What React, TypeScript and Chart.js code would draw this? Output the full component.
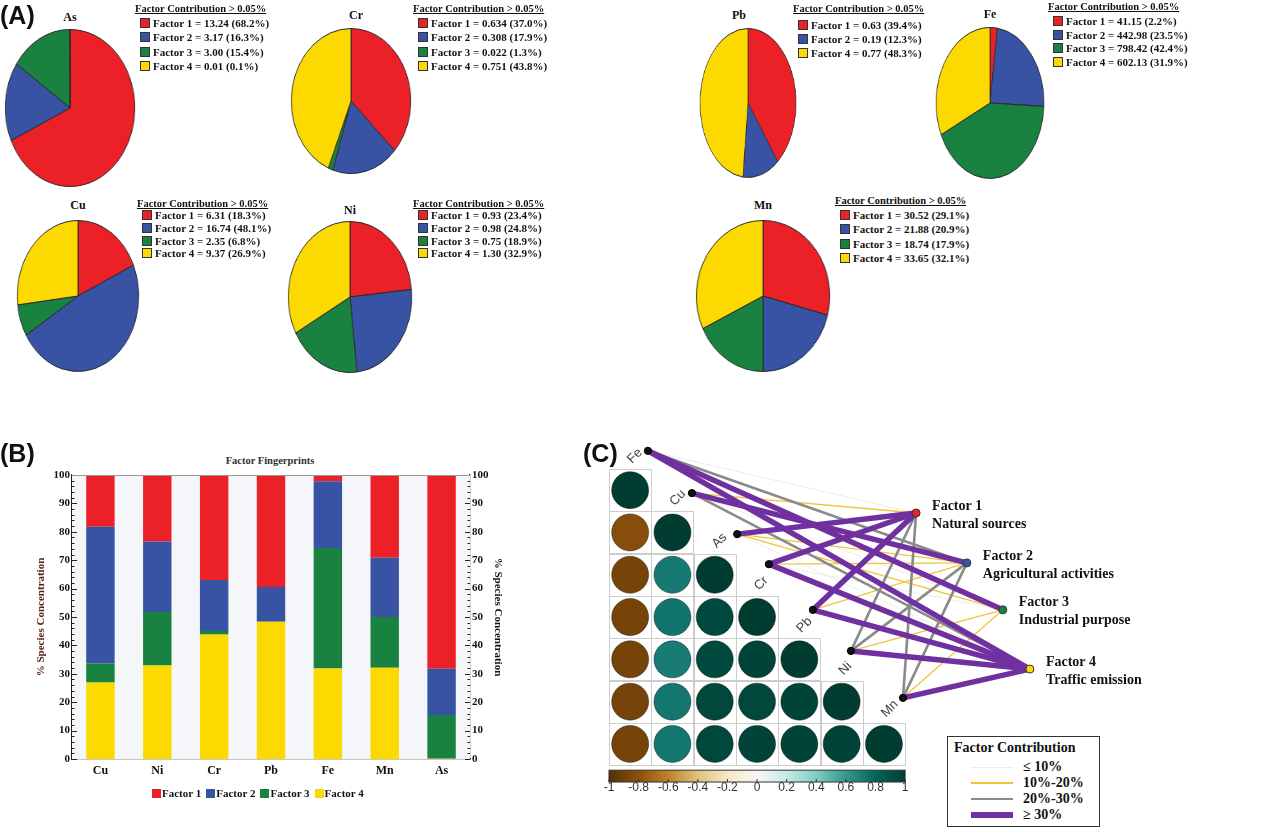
import React, { useEffect, useRef } from 'react';
import { Chart, registerables } from 'chart.js';

Chart.register(...registerables);

const SERIF = '"Liberation Serif", "Times New Roman", serif';
const SANS = '"Liberation Sans", Arial, sans-serif';

// ---------------- data ----------------
const elements = ['Cu', 'Ni', 'Cr', 'Pb', 'Fe', 'Mn', 'As'];
const factorNames = ['Factor 1', 'Factor 2', 'Factor 3', 'Factor 4'];
const factor1Value = [6.31, 0.93, 0.634, 0.63, 41.15, 30.52, 13.24];
const factor2Value = [16.74, 0.98, 0.308, 0.19, 442.98, 21.88, 3.17];
const factor3Value = [2.35, 0.75, 0.022, null, 798.42, 18.74, 3.0];
const factor4Value = [9.37, 1.3, 0.751, 0.77, 602.13, 33.65, 0.01];
const factor1Pct = [18.3, 23.4, 37.0, 39.4, 2.2, 29.1, 68.2];
const factor2Pct = [48.1, 24.8, 17.9, 12.3, 23.5, 20.9, 16.3];
const factor3Pct = [6.8, 18.9, 1.3, null, 42.4, 17.9, 15.4];
const factor4Pct = [26.9, 32.9, 43.8, 48.3, 31.9, 32.1, 0.1];
const valueDecimals = [2, 2, 3, 2, 2, 2, 2];
const barYTicks = [0, 10, 20, 30, 40, 50, 60, 70, 80, 90, 100];

const corrLabels = ['Fe', 'Cu', 'As', 'Cr', 'Pb', 'Ni', 'Mn'];
const corrRows = [
  [1],
  [-0.82, 1],
  [-0.88, 0.72, 1],
  [-0.88, 0.74, 0.94, 1],
  [-0.88, 0.71, 0.94, 0.96, 1],
  [-0.88, 0.73, 0.95, 0.95, 0.96, 1],
  [-0.88, 0.73, 0.95, 0.96, 0.96, 0.97, 1],
];
const colorbarTicks = [-1, -0.8, -0.6, -0.4, -0.2, 0, 0.2, 0.4, 0.6, 0.8, 1];
const factorSources = ['Natural sources', 'Agricultural activities', 'Industrial purpose', 'Traffic emission'];
const contributionClasses = ['≤ 10%', '10%-20%', '20%-30%', '≥ 30%'];

const factorValues = [factor1Value, factor2Value, factor3Value, factor4Value];
const factorPcts = [factor1Pct, factor2Pct, factor3Pct, factor4Pct];

// ---------------- styles / layout ----------------
const FACTOR_COLORS = ['#EC2027', '#3953A4', '#198241', '#FCD900'];
const EDGE_STYLES = [
  { color: '#ececec', width: 1 },
  { color: '#F0C43A', width: 1.3 },
  { color: '#8a8a8a', width: 2.6 },
  { color: '#7030A0', width: 5.5 },
];

const BRBG: [number, number[]][] = [
  [-1, [84, 48, 5]], [-0.8, [140, 81, 10]], [-0.6, [191, 129, 45]], [-0.4, [223, 194, 125]],
  [-0.2, [246, 232, 195]], [0, [247, 247, 247]], [0.2, [199, 234, 229]], [0.4, [128, 205, 193]],
  [0.6, [53, 151, 143]], [0.8, [1, 102, 94]], [1, [0, 60, 48]],
];
function brbg(v: number) {
  for (let k = 0; k < BRBG.length - 1; k++) {
    const [a, ca] = BRBG[k];
    const [b, cb] = BRBG[k + 1];
    if (v >= a && v <= b) {
      const t = (v - a) / (b - a);
      const c = ca.map((q, n) => Math.round(q + (cb[n] - q) * t));
      return `rgb(${c[0]},${c[1]},${c[2]})`;
    }
  }
  return 'rgb(0,60,48)';
}

// network layout in matrix-cell units
const elemNodeX = [0.92, 1.96, 3.03, 3.78, 4.82, 5.72, 6.95];
const elemNodeY = [-0.43, 0.57, 1.54, 2.25, 3.33, 4.3, 5.41];
const factorNodeX = [7.26, 8.46, 9.31, 9.95];
const factorNodeY = [1.04, 2.22, 3.33, 4.73];

const pieLayouts = [
  { el: 'As', cx: 70, cy: 108, rx: 66, ry: 80, tx: 70, ty: 17, lx: 135, lty: 10, lry: 22.5, lrh: 14.6 },
  { el: 'Cr', cx: 351, cy: 101, rx: 61, ry: 74, tx: 356, ty: 15, lx: 413, lty: 10, lry: 22.5, lrh: 14.6 },
  { el: 'Pb', cx: 748, cy: 103, rx: 49, ry: 76, tx: 739, ty: 15, lx: 793, lty: 10, lry: 25, lrh: 14 },
  { el: 'Fe', cx: 990, cy: 103, rx: 55, ry: 77, tx: 990, ty: 14, lx: 1048, lty: 8, lry: 21, lrh: 13.7 },
  { el: 'Cu', cx: 78, cy: 296, rx: 62, ry: 77, tx: 78, ty: 205, lx: 137, lty: 205, lry: 215, lrh: 12.8 },
  { el: 'Ni', cx: 350, cy: 297, rx: 63, ry: 77, tx: 350, ty: 210, lx: 413, lty: 205, lry: 215, lrh: 12.8 },
  { el: 'Mn', cx: 763, cy: 296, rx: 68, ry: 77, tx: 763, ty: 205, lx: 835, lty: 202, lry: 215, lrh: 14.3 },
];

Chart.defaults.font.family = SANS;

// ---------------- pies ----------------
function PieBlock({ layout }: { layout: any }) {
  const ref = useRef<HTMLCanvasElement>(null);
  const ei = elements.indexOf(layout.el);
  const present = [0, 1, 2, 3].filter((f) => factorPcts[f][ei] !== null);
  useEffect(() => {
    const chart = new Chart(ref.current as HTMLCanvasElement, {
      type: 'pie',
      data: {
        labels: present.map((f) => factorNames[f]),
        datasets: [
          {
            data: present.map((f) => factorPcts[f][ei] as number),
            backgroundColor: present.map((f) => FACTOR_COLORS[f]),
            borderColor: '#2a2a2a',
            borderWidth: 1,
          },
        ],
      },
      options: {
        animation: false,
        responsive: true,
        maintainAspectRatio: false,
        events: [],
        layout: { padding: 1 },
        plugins: { legend: { display: false }, tooltip: { enabled: false } },
      },
    });
    return () => chart.destroy();
  }, []);
  const D = layout.ry * 2;
  const rowStyle = (cy: number): React.CSSProperties => ({
    position: 'absolute', left: layout.lx + 5, top: cy - 7, height: 14, lineHeight: '14px',
    whiteSpace: 'nowrap', font: `bold 11px ${SERIF}`, color: '#111', display: 'flex', alignItems: 'center',
  });
  return (
    <>
      <div style={{ position: 'absolute', left: layout.cx - layout.ry, top: layout.cy - layout.ry, width: D, height: D, transform: `scaleX(${layout.rx / layout.ry})`, transformOrigin: 'center' }}>
        <canvas ref={ref} />
      </div>
      <div style={{ position: 'absolute', left: layout.tx - 20, width: 40, top: layout.ty - 7, lineHeight: '14px', textAlign: 'center', font: `bold 12px ${SERIF}`, color: '#111' }}>
        {layout.el}
      </div>
      <div style={{ position: 'absolute', left: layout.lx, top: layout.lty - 7, lineHeight: '14px', whiteSpace: 'nowrap', font: `bold 10.5px ${SERIF}`, color: '#111', textDecoration: 'underline' }}>
        Factor Contribution &gt; 0.05%
      </div>
      {present.map((f, r) => (
        <div key={f} style={rowStyle(layout.lry + r * layout.lrh)}>
          <span style={{ display: 'inline-block', width: 8, height: 8, background: FACTOR_COLORS[f], border: '1px solid #333', marginRight: 3 }} />
          {`${factorNames[f]} = ${(factorValues[f][ei] as number).toFixed(valueDecimals[ei])} (${(factorPcts[f][ei] as number).toFixed(1)}%)`}
        </div>
      ))}
    </>
  );
}

// ---------------- bar chart ----------------
function BarBlock() {
  const ref = useRef<HTMLCanvasElement>(null);
  useEffect(() => {
    const bg = {
      id: 'plotBg',
      beforeDatasetsDraw(chart: any) {
        const { ctx, chartArea: a } = chart;
        ctx.save();
        ctx.fillStyle = '#f5f6f9';
        ctx.fillRect(a.left, a.top, a.right - a.left, a.bottom - a.top);
        ctx.restore();
      },
    };
    const minor = {
      id: 'minorTicks',
      afterDraw(chart: any) {
        const { ctx, chartArea: a, scales } = chart;
        ctx.save();
        ctx.strokeStyle = '#222';
        ctx.lineWidth = 1;
        for (let v = 0; v <= 100; v += 2) {
          const y = Math.round(scales.y.getPixelForValue(v)) + 0.5;
          const len = barYTicks.includes(v) ? 5 : 2.5;
          ctx.beginPath();
          ctx.moveTo(a.left, y); ctx.lineTo(a.left + len, y);
          ctx.moveTo(a.right, y); ctx.lineTo(a.right - len, y);
          ctx.stroke();
        }
        ctx.strokeStyle = '#9a9a9a';
        ctx.beginPath();
        ctx.moveTo(a.left, a.top + 0.5); ctx.lineTo(a.right, a.top + 0.5);
        ctx.stroke();
        ctx.restore();
      },
    };
    const tickFont = { family: SERIF, size: 11, weight: 'bold' as const };
    const chart = new Chart(ref.current as HTMLCanvasElement, {
      type: 'bar',
      data: {
        labels: elements,
        datasets: [3, 2, 1, 0].map((f) => ({
          label: factorNames[f],
          data: factorPcts[f],
          backgroundColor: FACTOR_COLORS[f],
          borderWidth: 0,
          categoryPercentage: 0.5,
          barPercentage: 1,
        })),
      },
      options: {
        animation: false,
        responsive: true,
        maintainAspectRatio: false,
        events: [],
        layout: { padding: { left: 31, top: 9, right: 0, bottom: 0 } },
        plugins: { legend: { display: false }, tooltip: { enabled: false } },
        scales: {
          x: {
            stacked: true,
            grid: { display: false, drawTicks: false },
            border: { display: true, color: '#222', width: 1.2 },
            ticks: { padding: 5, color: '#111', font: { family: SERIF, size: 12, weight: 'bold' } },
            afterFit: (s: any) => { s.height = 31; },
          },
          y: {
            stacked: true,
            min: 0,
            max: 100,
            afterBuildTicks: (s: any) => { s.ticks = barYTicks.map((v) => ({ value: v })); },
            ticks: { padding: 2, color: '#111', font: tickFont },
            grid: { display: false, drawTicks: false },
            border: { display: true, color: '#222', width: 1.2 },
            title: { display: true, text: '% Species Concentration', color: '#5b1f14', font: { family: SERIF, size: 11, weight: 'bold' }, padding: { top: 4, bottom: 4 } },
            afterFit: (s: any) => { s.width = 41; },
          },
          y2: {
            position: 'right',
            min: 0,
            max: 100,
            afterBuildTicks: (s: any) => { s.ticks = barYTicks.map((v) => ({ value: v })); },
            ticks: { padding: 2, color: '#111', font: tickFont },
            grid: { display: false, drawTicks: false, drawOnChartArea: false },
            border: { display: true, color: '#222', width: 1.2 },
            title: { display: true, text: '% Species Concentration', color: '#111', font: { family: SERIF, size: 11, weight: 'bold' }, padding: { top: 4, bottom: 4 } },
            afterFit: (s: any) => { s.width = 38; },
          },
        },
      } as any,
      plugins: [bg, minor],
    });
    return () => chart.destroy();
  }, []);
  return (
    <>
      <div style={{ position: 'absolute', left: 170, width: 200, top: 455, lineHeight: '14px', textAlign: 'center', font: `bold 10.5px ${SERIF}`, color: '#333' }}>
        Factor Fingerprints
      </div>
      <div style={{ position: 'absolute', left: 0, top: 466, width: 508, height: 324 }}>
        <canvas ref={ref} />
      </div>
      <div style={{ position: 'absolute', left: 152, top: 786, height: 14, display: 'flex', alignItems: 'center', whiteSpace: 'nowrap', font: `bold 11px ${SERIF}`, color: '#111' }}>
        {factorNames.map((n, f) => (
          <span key={n} style={{ display: 'flex', alignItems: 'center', marginRight: 5 }}>
            <span style={{ display: 'inline-block', width: 9, height: 9, background: FACTOR_COLORS[f], marginRight: 1 }} />
            {n}
          </span>
        ))}
      </div>
    </>
  );
}

// ---------------- network / correlation ----------------
function NetworkBlock() {
  const ref = useRef<HTMLCanvasElement>(null);
  useEffect(() => {
    const cellPts: any[] = [];
    const cellColors: string[] = [];
    corrRows.forEach((row, i) => row.forEach((v, j) => { cellPts.push({ x: j + 0.5, y: i + 0.5 }); cellColors.push(brbg(v)); }));
    const datasets: any[] = [
      { data: cellPts, pointRadius: 18.5, backgroundColor: cellColors, borderColor: 'rgba(20,20,20,0.55)', borderWidth: 0.8, order: 10 },
    ];
    corrLabels.forEach((el, k) => {
      const ei = elements.indexOf(el);
      factorPcts.forEach((arr, f) => {
        const p = arr[ei];
        if (p === null || p === undefined) return;
        const cls = p <= 10 ? 0 : p < 20 ? 1 : p < 30 ? 2 : 3;
        datasets.push({
          data: [{ x: elemNodeX[k], y: elemNodeY[k] }, { x: factorNodeX[f], y: factorNodeY[f] }],
          showLine: true,
          borderColor: EDGE_STYLES[cls].color,
          borderWidth: EDGE_STYLES[cls].width,
          pointRadius: 0,
          order: 8 - cls,
        });
      });
    });
    datasets.push({ data: corrLabels.map((_, k) => ({ x: elemNodeX[k], y: elemNodeY[k] })), pointRadius: 3.6, backgroundColor: '#111', borderColor: '#000', borderWidth: 1, order: 0 });
    datasets.push({ data: factorNames.map((_, f) => ({ x: factorNodeX[f], y: factorNodeY[f] })), pointRadius: 4, backgroundColor: FACTOR_COLORS, borderColor: '#333', borderWidth: 1, order: 0 });

    const grid = {
      id: 'cellGrid',
      beforeDatasetsDraw(chart: any) {
        const { ctx, scales: { x, y } } = chart;
        ctx.save();
        ctx.strokeStyle = '#cdcdcd';
        ctx.lineWidth = 1;
        corrRows.forEach((row, i) => row.forEach((_, j) => {
          const x0 = x.getPixelForValue(j), x1 = x.getPixelForValue(j + 1);
          const y0 = y.getPixelForValue(i), y1 = y.getPixelForValue(i + 1);
          ctx.strokeRect(Math.round(x0) + 0.5, Math.round(y0) + 0.5, Math.round(x1 - x0), Math.round(y1 - y0));
        }));
        ctx.restore();
      },
    };
    const labels = {
      id: 'netLabels',
      afterDatasetsDraw(chart: any) {
        const { ctx, scales: { x, y } } = chart;
        ctx.save();
        ctx.fillStyle = '#444';
        ctx.font = `13px ${SANS}`;
        ctx.textAlign = 'left';
        ctx.textBaseline = 'bottom';
        corrLabels.forEach((lab, k) => {
          const px = x.getPixelForValue(k + 0.5) + 4;
          const py = y.getPixelForValue(k) - 3;
          ctx.save();
          ctx.translate(px, py);
          ctx.rotate(-Math.PI / 4);
          ctx.fillText(lab, 0, 0);
          ctx.restore();
        });
        ctx.fillStyle = '#111';
        ctx.font = `bold 14px ${SERIF}`;
        ctx.textBaseline = 'middle';
        factorNames.forEach((n, f) => {
          const px = x.getPixelForValue(factorNodeX[f]) + 16;
          const py = y.getPixelForValue(factorNodeY[f]);
          ctx.fillText(n, px, py - 7);
          ctx.fillText(factorSources[f], px, py + 11);
        });
        // colorbar
        const x0 = x.getPixelForValue(0), x1 = x.getPixelForValue(7);
        const y0 = y.getPixelForValue(7.12), y1 = y.getPixelForValue(7.4);
        const g = ctx.createLinearGradient(x0, 0, x1, 0);
        BRBG.forEach(([v, c]) => g.addColorStop((v + 1) / 2, `rgb(${c[0]},${c[1]},${c[2]})`));
        ctx.fillStyle = g;
        ctx.fillRect(x0, y0, x1 - x0, y1 - y0);
        ctx.strokeStyle = '#333';
        ctx.lineWidth = 1;
        ctx.strokeRect(x0, y0, x1 - x0, y1 - y0);
        ctx.fillStyle = '#333';
        ctx.font = `12px ${SANS}`;
        ctx.textAlign = 'center';
        const ly = y.getPixelForValue(7.53);
        colorbarTicks.forEach((v) => {
          const px = x.getPixelForValue(((v + 1) / 2) * 7);
          ctx.beginPath();
          ctx.moveTo(px, y1);
          ctx.lineTo(px, y1 - 3);
          ctx.stroke();
          ctx.fillText(String(Math.round(v * 10) / 10), px, ly);
        });
        ctx.restore();
      },
    };
    const u = 42.3;
    const chart = new Chart(ref.current as HTMLCanvasElement, {
      type: 'scatter',
      data: { datasets },
      options: {
        animation: false,
        responsive: true,
        maintainAspectRatio: false,
        events: [],
        layout: { padding: 0, autoPadding: false },
        plugins: { legend: { display: false }, tooltip: { enabled: false } },
        scales: {
          x: { type: 'linear', display: false, min: (590 - 609) / u, max: (1280 - 609) / u },
          y: { type: 'linear', display: false, reverse: true, min: (440 - 469) / u, max: (833 - 469) / u },
        },
      } as any,
      plugins: [grid, labels],
    });
    return () => chart.destroy();
  }, []);
  return (
    <>
      <div style={{ position: 'absolute', left: 590, top: 440, width: 690, height: 393 }}>
        <canvas ref={ref} />
      </div>
      <div style={{ position: 'absolute', left: 947, top: 736, width: 153, height: 91, border: '1px solid #333', boxSizing: 'border-box', background: '#fff' }}>
        <div style={{ position: 'absolute', left: 6, top: 3, lineHeight: '16px', whiteSpace: 'nowrap', font: `bold 14px ${SERIF}`, color: '#111' }}>Factor Contribution</div>
        {contributionClasses.map((c, k) => (
          <div key={c} style={{ position: 'absolute', left: 0, top: 22 + k * 16, height: 16, width: 150 }}>
            <div style={{ position: 'absolute', left: 23, width: 42, top: 8 - EDGE_STYLES[k].width / 2, height: EDGE_STYLES[k].width, background: EDGE_STYLES[k].color }} />
            <div style={{ position: 'absolute', left: 75, top: 0, lineHeight: '16px', whiteSpace: 'nowrap', font: `bold 14px ${SERIF}`, color: '#111' }}>{c}</div>
          </div>
        ))}
      </div>
    </>
  );
}

export default function App() {
  const panelLabel = (t: string, left: number, top: number) => (
    <div style={{ position: 'absolute', left, top, lineHeight: '28px', font: `bold 25px ${SANS}`, color: '#111' }}>{t}</div>
  );
  return (
    <div style={{ position: 'absolute', left: 0, top: 0, width: 1280, height: 833, background: '#fff', overflow: 'hidden' }}>
      {pieLayouts.map((l) => <PieBlock key={l.el} layout={l} />)}
      <BarBlock />
      <NetworkBlock />
      {panelLabel('(A)', 0, 1)}
      {panelLabel('(B)', 0, 439)}
      {panelLabel('(C)', 583, 439)}
    </div>
  );
}
